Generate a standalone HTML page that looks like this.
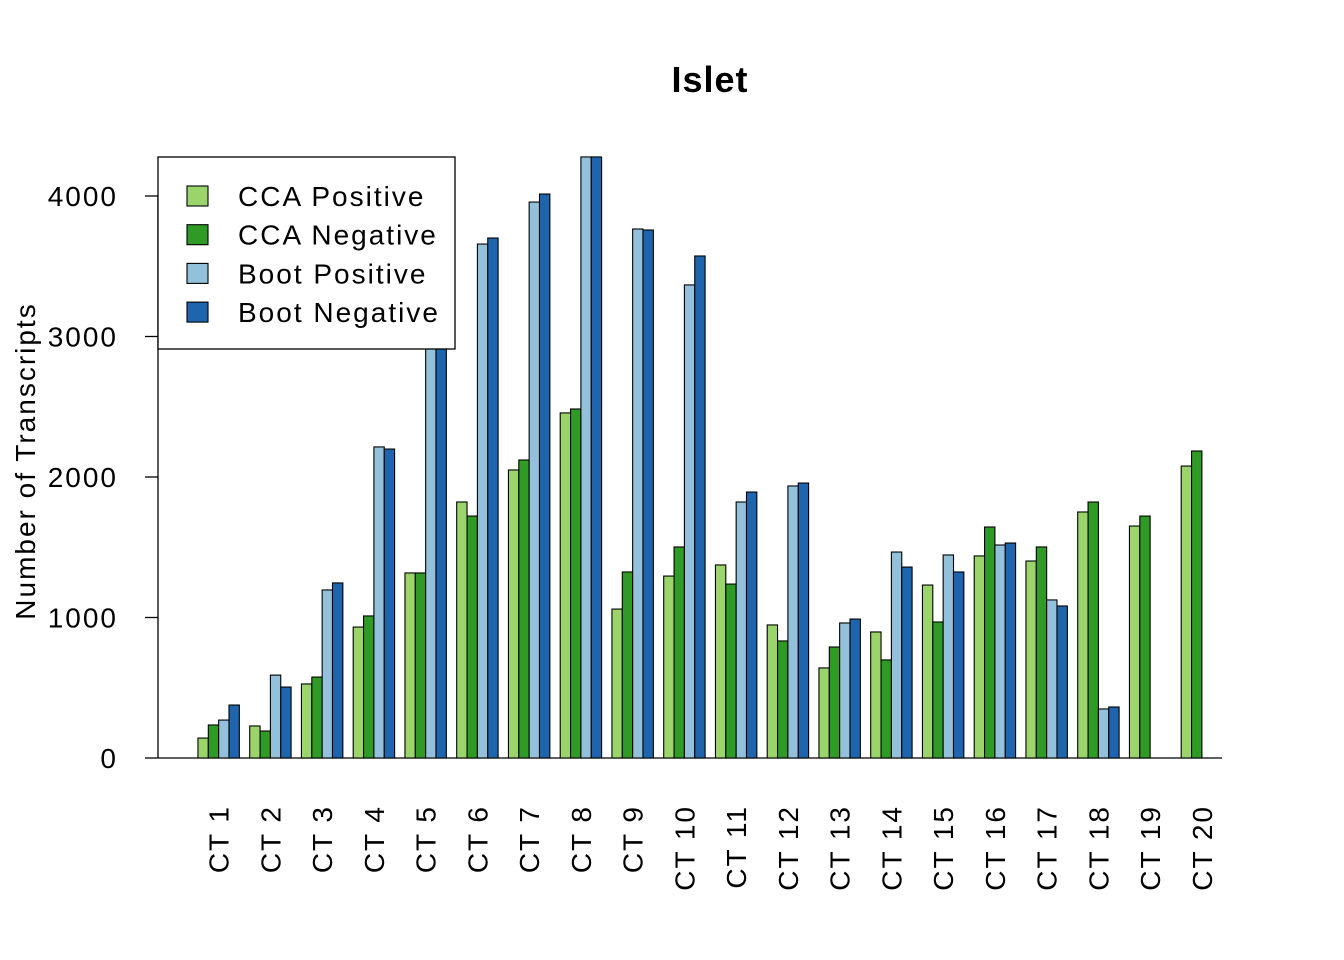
<!DOCTYPE html>
<html><head><meta charset="utf-8"><style>
body{margin:0;background:#fff;}
svg{display:block;font-family:"Liberation Sans",Arial,sans-serif;}
</style></head><body>
<svg id="chart" width="1344" height="960" xmlns="http://www.w3.org/2000/svg">
<text x="710" y="92" text-anchor="middle" font-size="36" font-weight="bold" letter-spacing="1">Islet</text>
<text transform="translate(35,461) rotate(-90)" text-anchor="middle" font-size="28" letter-spacing="2">Number of Transcripts</text>
<g id="ticks"></g><g id="bars"></g><g id="xlabels"></g>
</svg>
<script>
const categories=["CT 1","CT 2","CT 3","CT 4","CT 5","CT 6","CT 7","CT 8","CT 9","CT 10","CT 11","CT 12","CT 13","CT 14","CT 15","CT 16","CT 17","CT 18","CT 19","CT 20"];
const ccaPositive=[142,228,527,932,1317,1822,2050,2456,1060,1295,1374,947,641,897,1231,1438,1402,1751,1651,2078];
const ccaNegative=[235,192,576,1011,1317,1722,2121,2484,1324,1502,1238,833,790,698,968,1644,1502,1822,1722,2185];
const bootPositive=[270,590,1196,2214,3300,3658,3957,4278,3765,3367,1822,1936,961,1466,1445,1516,1125,349,0,0];
const bootNegative=[377,505,1246,2199,3350,3701,4014,4278,3758,3573,1893,1957,989,1359,1324,1530,1082,363,0,0];
const yTicks=[0,1000,2000,3000,4000];
const seriesNames=["CCA Positive","CCA Negative","Boot Positive","Boot Negative"];
const seriesColors=["#9bd46a","#2f9a26","#93c1dc","#1f65ad"];
const NS="http://www.w3.org/2000/svg";
const y0=758, pxPer=562/4000;
const yScale=v=>y0-v*pxPer;
const w=10.35, x0=187.6;
const xScale=(i,s)=>x0+(i*5+1+s)*w;
function mk(tag,attrs,parent){const e=document.createElementNS(NS,tag);for(const k in attrs)e.setAttribute(k,attrs[k]);parent.appendChild(e);return e;}
const tg=document.getElementById('ticks');
const ax=mk('line',{x1:158,x2:158,y1:yScale(0),y2:yScale(4000),stroke:'#000','stroke-width':1.3},tg);


yTicks.forEach(t=>{
 const l=mk('line',{x1:145,x2:158,y1:yScale(t),y2:yScale(t),stroke:'#000','stroke-width':1.3},tg);
 
 
 const tx=mk('text',{x:118,y:yScale(t)+10,'text-anchor':'end','font-size':28,'letter-spacing':2},tg);
 
 
 tx.textContent=t;
});
const bl=mk('line',{x1:158,x2:1222,y1:y0,y2:y0,stroke:'#000','stroke-width':1.3},tg);


const bg=document.getElementById('bars');
const series=[ccaPositive,ccaNegative,bootPositive,bootNegative];
categories.forEach((c,i)=>{
 series.forEach((arr,s)=>{
  const v=arr[i];
  const r=mk('rect',{x:xScale(i,s),y:yScale(v),width:w,height:v*pxPer,fill:seriesColors[s],stroke:'#000','stroke-width':1.1},bg);
  
  
 });
 const cx=xScale(i,2);
 const tx=mk('text',{transform:`translate(${cx+10},805) rotate(-90)`,'text-anchor':'end','font-size':28,'letter-spacing':2},document.getElementById('xlabels'));
 
 
 tx.textContent=c;
});
const svg=document.getElementById('chart');
const lg=mk('g',{},svg);


mk('rect',{x:158,y:157,width:297,height:192,fill:'#fff',stroke:'#000','stroke-width':1.3},lg);
seriesNames.forEach((n,k)=>{
 const yy=196+k*38.7;
 const sw=mk('rect',{x:187,y:yy-10,width:21,height:20,fill:seriesColors[k],stroke:'#000','stroke-width':1.1},lg);
 
 
 const t=mk('text',{x:238,y:yy+10,'font-size':28,'letter-spacing':2},lg);
 
 
 t.textContent=n;
});
</script>
</body></html>
